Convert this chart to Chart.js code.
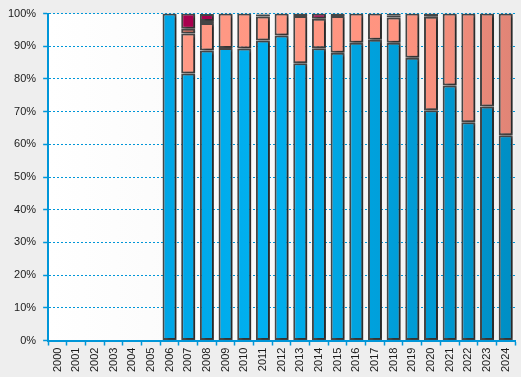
<!DOCTYPE html>
<html>
<head>
<meta charset="utf-8">
<script src="https://cdn.jsdelivr.net/npm/chart.js@4/dist/chart.umd.min.js"></script>
<style>
    body { margin: 0; background: #eeeeee; }
    #chartBox { width: 521px; height: 377px; }
</style>
</head>
<body>
<div id="chartBox"><canvas id="shareChart"></canvas></div>
<script>
var years = ["2000", "2001", "2002", "2003", "2004", "2005", "2006", "2007", "2008", "2009", "2010", "2011", "2012",
             "2013", "2014", "2015", "2016", "2017", "2018", "2019", "2020", "2021", "2022", "2023", "2024"];

// percent shares per year, bottom to top
var blueShare    = [null, null, null, null, null, null, 100, 81.7, 88.7, 89.5, 89.3, 91.8, 93.3,
                    84.8, 89.4, 88.0, 91.1, 92.0, 91.1, 86.5, 70.4, 78.0, 66.8, 71.6, 62.8];
var salmonShare  = [null, null, null, null, null, null, null, 12.2, 8.4, 10.5, 10.7, 7.3, 6.7,
                    14.5, 9.0, 11.3, 8.9, 8.0, 7.7, 13.5, 28.6, 22.0, 33.2, 28.4, 37.2];
var orangeShare  = [null, null, null, null, null, null, null, 1.5, 0.6, null, null, 0.6, null,
                    null, null, null, null, null, null, null, null, null, null, null, null];
var crimsonShare = [null, null, null, null, null, null, null, 4.6, 2.2, null, null, null, null,
                    0.7, 1.6, 0.7, null, null, 0.7, null, 1.0, null, null, null, null];
var greyShare    = [null, null, null, null, null, null, null, null, null, null, null, 0.3, null,
                    null, null, null, null, null, 0.5, null, null, null, null, null, null];

var yTicks = [0, 10, 20, 30, 40, 50, 60, 70, 80, 90, 100];

var axisBlue = "#0096d8";

function horizontalGradient(stops)
{
    return function (context) {
        var chart = context.chart;
        var area = chart.chartArea;
        if (!area) {
            return stops[0][1];
        }
        var g = chart.ctx.createLinearGradient(area.left, 0, area.right, 0);
        for (var i = 0; i < stops.length; i++) {
            g.addColorStop(stops[i][0], stops[i][1]);
        }
        return g;
    };
}

var backgroundPlugin = {
    id: "plotBackground",
    beforeDraw: function (chart) {
        var ctx = chart.ctx;
        var a = chart.chartArea;
        ctx.save();
        ctx.fillStyle = "#eeeeee";
        ctx.fillRect(0, 0, chart.width, chart.height);
        var g = ctx.createLinearGradient(a.left, 0, a.right, 0);
        g.addColorStop(0, "#ffffff");
        g.addColorStop(1, "#f1f1f1");
        ctx.fillStyle = g;
        ctx.fillRect(a.left, a.top, a.right - a.left, a.bottom - a.top);
        ctx.restore();
    }
};

var shadowPlugin = {
    id: "barShadow",
    beforeDatasetsDraw: function (chart) {
        var ctx = chart.ctx;
        ctx.save();
        ctx.shadowColor = "rgba(0, 0, 0, 0.4)";
        ctx.shadowOffsetX = 3;
        ctx.shadowOffsetY = 1;
        ctx.shadowBlur = 2;
    },
    afterDatasetsDraw: function (chart) {
        chart.ctx.restore();
    }
};

function makeDataset(label, values, color)
{
    return {
        label: label,
        data: values,
        backgroundColor: color,
        borderColor: "#454545",
        borderWidth: 2,
        borderSkipped: false,
        categoryPercentage: 1.0,
        barPercentage: 0.75
    };
}

var shareChart = new Chart(document.getElementById("shareChart"), {
    type: "bar",
    data: {
        labels: years,
        datasets: [
            makeDataset("blue", blueShare, horizontalGradient([[0, "#0098d8"], [0.45, "#00b0f0"], [1, "#008ec4"]])),
            makeDataset("salmon", salmonShare, horizontalGradient([[0, "#ff9c88"], [0.75, "#ff9480"], [1, "#e08476"]])),
            makeDataset("orange", orangeShare, "#ff6044"),
            makeDataset("crimson", crimsonShare, "#a8004e"),
            makeDataset("grey", greyShare, "#555555")
        ]
    },
    options: {
        responsive: true,
        maintainAspectRatio: false,
        animation: false,
        layout: {
            padding: { left: 1, top: 9, right: 5, bottom: 3 }
        },
        plugins: {
            legend: { display: false },
            tooltip: { enabled: false }
        },
        scales: {
            x: {
                stacked: true,
                grid: {
                    drawOnChartArea: false,
                    drawTicks: true,
                    tickLength: 5,
                    tickColor: axisBlue,
                    tickWidth: 1.5
                },
                border: { color: axisBlue, width: 2 },
                ticks: {
                    minRotation: 90,
                    maxRotation: 90,
                    padding: 2,
                    color: "#1a1a1a",
                    font: { family: "'Liberation Sans', Arial, sans-serif", size: 11 }
                }
            },
            y: {
                stacked: true,
                min: 0,
                max: 100,
                afterBuildTicks: function (axis) {
                    axis.ticks = yTicks.map(function (v) { return { value: v }; });
                },
                grid: {
                    color: axisBlue,
                    lineWidth: 1,
                    tickLength: 5,
                    tickColor: axisBlue,
                    tickBorderDash: [],
                    tickWidth: 1.5
                },
                border: { color: axisBlue, width: 2, dash: [2, 2] },
                ticks: {
                    padding: 7,
                    color: "#1a1a1a",
                    font: { family: "'Liberation Sans', Arial, sans-serif", size: 11 },
                    callback: function (v) { return v + "%"; }
                }
            }
        }
    },
    plugins: [backgroundPlugin, shadowPlugin]
});
</script>
</body>
</html>
